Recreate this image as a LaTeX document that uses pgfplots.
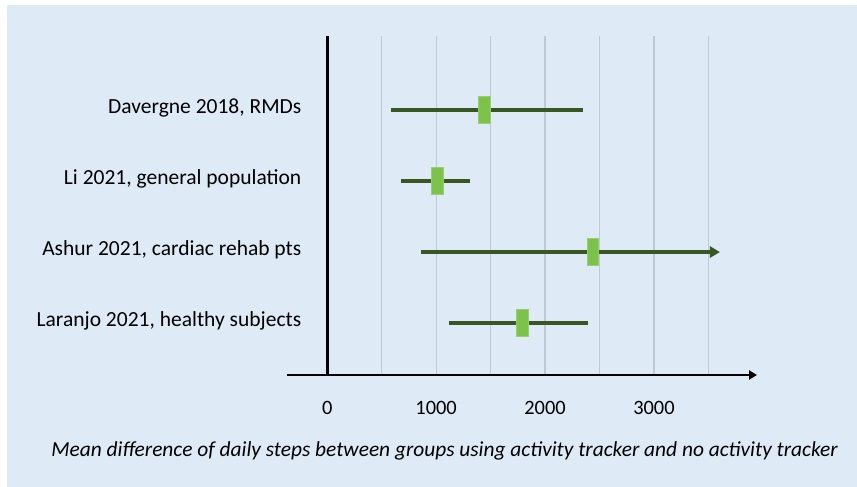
\documentclass[border=0pt]{standalone}
\usepackage{pgfplots}
\pgfplotsset{compat=1.18}
\usepackage{fontspec}
\setmainfont{Carlito}
\usetikzlibrary{arrows.meta}
\definecolor{bgblue}{HTML}{DEEBF7}
\definecolor{cigreen}{HTML}{385723}
\definecolor{meangreen}{HTML}{7DC24B}
\definecolor{gridc}{HTML}{BFC9D4}
\begin{document}
\begin{tikzpicture}[x=0.5pt,y=0.5pt]
\path[fill=white] (0,0) rectangle (857,487);
\fill[bgblue] (7,0) rectangle (857,482);
\begin{axis}[
  at={(143.5pt,56pt)}, anchor=south west,
  scale only axis, width=235pt, height=169.5pt,
  xmin=-369, xmax=3946, ymin=0.27, ymax=5.04,
  clip=false,
  axis x line=bottom, axis y line=left,
  y axis line style={draw=none},
  x axis line style={line width=1.1pt, -{Triangle[length=4pt,width=4.5pt]}},
  xtick={0,1000,2000,3000},
  minor xtick={500,1500,2500,3500},
  xmajorgrids, xminorgrids,
  major grid style={gridc, line width=0.55pt},
  minor grid style={gridc, line width=0.55pt},
  tick style={draw=none}, minor tick style={draw=none},
  /pgf/number format/assume math mode=true,
  /pgf/number format/1000 sep={},
  xticklabel style={anchor=base, yshift=-17.5pt, font=\fontsize{10.2pt}{12pt}\selectfont},
  ytick={1,2,3,4},
  yticklabels={{Laranjo 2021, healthy subjects},{Ashur 2021, cardiac rehab pts},{Li 2021, general population},{Davergne 2018, RMDs}},
  yticklabel style={xshift=12.8pt, yshift=1pt, font=\fontsize{10.75pt}{13pt}\selectfont},
]
% reference line at zero
\addplot[black, line width=1.6pt] coordinates {(0,0.27) (0,5.04)};
% confidence intervals
\addplot[cigreen, line width=1.8pt] coordinates {(583,4) (2346,4)};
\addplot[cigreen, line width=1.8pt] coordinates {(676,3) (1312,3)};
\addplot[cigreen, line width=1.8pt, -{Triangle[length=5pt,width=5.5pt]}] coordinates {(860,2) (3606,2)};
\addplot[cigreen, line width=1.8pt] coordinates {(1122,1) (2391,1)};
% means
\addplot[only marks, mark=square*, mark size=6.75pt,
  mark options={xscale=0.433, fill=meangreen, draw=meangreen!80!white, line width=0.4pt}]
  coordinates {(1442,4) (1012,3) (2440,2) (1795,1)};
\end{axis}
\node[anchor=base, font=\fontsize{10.7pt}{13pt}\selectfont\itshape] at (444.5,30.3)
  {Mean difference of daily steps between groups using activity tracker and no activity tracker};
\end{tikzpicture}
\end{document}
